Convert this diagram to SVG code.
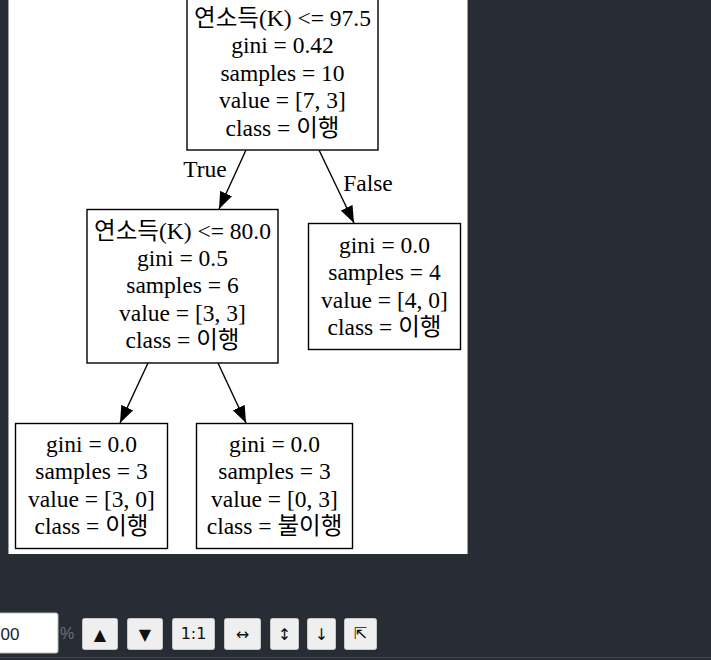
<svg xmlns="http://www.w3.org/2000/svg" width="711" height="660" viewBox="0 0 711 660">
<defs>
<style>
.bg{fill:#282c34}
.box{fill:none;stroke:#000;stroke-width:1.4}
.t{font-family:"Liberation Serif","Noto Sans CJK KR",serif;font-size:23.5px;fill:#000;text-anchor:middle}
.e{stroke:#000;stroke-width:1.4;fill:none}
.btn{fill:#efefef;stroke:#c8c8c8;stroke-width:1}
.bt{font-family:"DejaVu Sans","Liberation Sans",sans-serif;font-size:16px;fill:#111;text-anchor:middle}
</style>
<marker id="ah" markerUnits="userSpaceOnUse" markerWidth="18" markerHeight="14" refX="17" refY="7" orient="auto" viewBox="0 0 18 14">
<path d="M0,0.5 L17,7 L0,13.5 z" fill="#000"/>
</marker>
</defs>
<rect class="bg" x="0" y="0" width="711" height="660"/>
<rect x="8.5" y="0" width="459" height="554" fill="#fff"/>
<line x1="8.5" y1="0" x2="8.5" y2="554" stroke="#9aa0a8" stroke-width="1"/>
<line x1="467.5" y1="0" x2="467.5" y2="554" stroke="#9aa0a8" stroke-width="1"/>
<line x1="0" y1="657.5" x2="711" y2="657.5" stroke="#424957" stroke-width="1"/>

<g id="edges">
<line class="e" x1="246" y1="150" x2="219" y2="209" marker-end="url(#ah)"/>
<line class="e" x1="319" y1="150" x2="354" y2="223" marker-end="url(#ah)"/>
<line class="e" x1="148" y1="363" x2="120" y2="423" marker-end="url(#ah)"/>
<line class="e" x1="218" y1="363" x2="246" y2="423" marker-end="url(#ah)"/>
<text class="t" x="205" y="177">True</text>
<text class="t" x="368" y="191">False</text>
</g>

<g id="node0">
<rect class="box" x="187" y="-5" width="191" height="155"/>
<text class="t" x="282.5" y="26">연소득(K) &lt;= 97.5</text>
<text class="t" x="282.5" y="53">gini = 0.42</text>
<text class="t" x="282.5" y="80.5">samples = 10</text>
<text class="t" x="282.5" y="108">value = [7, 3]</text>
<text class="t" x="282.5" y="135.5">class = 이행</text>
</g>

<g id="node1">
<rect class="box" x="87" y="209.5" width="191" height="153.5"/>
<text class="t" x="182.5" y="238.5">연소득(K) &lt;= 80.0</text>
<text class="t" x="182.5" y="265.5">gini = 0.5</text>
<text class="t" x="182.5" y="293">samples = 6</text>
<text class="t" x="182.5" y="320.5">value = [3, 3]</text>
<text class="t" x="182.5" y="348">class = 이행</text>
</g>

<g id="node2">
<rect class="box" x="308.5" y="223.5" width="152" height="126"/>
<text class="t" x="384.5" y="252.5">gini = 0.0</text>
<text class="t" x="384.5" y="280">samples = 4</text>
<text class="t" x="384.5" y="307.5">value = [4, 0]</text>
<text class="t" x="384.5" y="335">class = 이행</text>
</g>

<g id="node3">
<rect class="box" x="15.5" y="423.5" width="152" height="125"/>
<text class="t" x="91.5" y="451.5">gini = 0.0</text>
<text class="t" x="91.5" y="479">samples = 3</text>
<text class="t" x="91.5" y="506.5">value = [3, 0]</text>
<text class="t" x="91.5" y="534">class = 이행</text>
</g>

<g id="node4">
<rect class="box" x="196.5" y="423.5" width="156" height="125"/>
<text class="t" x="274.5" y="451.5">gini = 0.0</text>
<text class="t" x="274.5" y="479">samples = 3</text>
<text class="t" x="274.5" y="506.5">value = [0, 3]</text>
<text class="t" x="274.5" y="534">class = 불이행</text>
</g>

<g id="toolbar">
<rect x="-4" y="613" width="62" height="40" rx="2" fill="#fff" stroke="#bbb"/>
<text x="0.5" y="640" font-family="Liberation Sans, sans-serif" font-size="17" fill="#222">00</text>
<text x="60" y="639" font-family="Liberation Sans, sans-serif" font-size="16" fill="#6b717b">%</text>
<rect class="btn" x="82.5" y="618.5" width="35" height="31" rx="2"/>
<text class="bt" x="100" y="640">▲</text>
<rect class="btn" x="127.5" y="618.5" width="35" height="31" rx="2"/>
<text class="bt" x="145" y="640">▼</text>
<rect class="btn" x="172.5" y="618.5" width="42" height="31" rx="2"/>
<text class="bt" x="193.5" y="639" font-family="Liberation Sans, sans-serif" font-size="15" fill="#222">1:1</text>
<rect class="btn" x="224.5" y="618.5" width="36" height="31" rx="2"/>
<text class="bt" x="242.5" y="640">↔</text>
<rect class="btn" x="270.5" y="618.5" width="28" height="31" rx="2"/>
<text class="bt" x="284.5" y="640">↕</text>
<rect class="btn" x="307.5" y="618.5" width="28" height="31" rx="2"/>
<text class="bt" x="321.5" y="640">↓</text>
<rect class="btn" x="344.5" y="618.5" width="32" height="31" rx="2"/>
<text class="bt" x="360.5" y="639">⇱</text>
</g>
</svg>
